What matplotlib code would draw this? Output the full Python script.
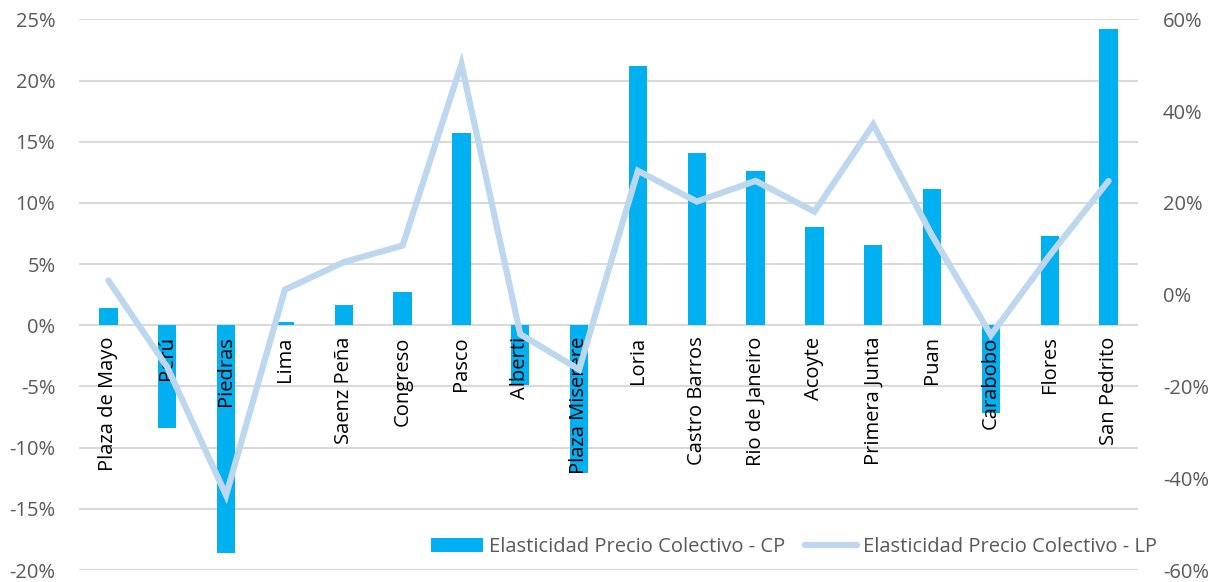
import matplotlib
matplotlib.use("Agg")
import matplotlib.pyplot as plt
from matplotlib.ticker import FuncFormatter

categories = ["Plaza de Mayo", "Perú", "Piedras", "Lima", "Saenz Peña", "Congreso",
              "Pasco", "Alberti", "Plaza Miserere", "Loria", "Castro Barros",
              "Rio de Janeiro", "Acoyte", "Primera Junta", "Puan", "Carabobo",
              "Flores", "San Pedrito"]
cp_values = [1.41, -8.4, -18.6, 0.27, 1.68, 2.72, 15.7, -4.9, -12.1, 21.2, 14.1,
             12.6, 8.0, 6.6, 11.1, -7.15, 7.3, 24.2]
lp_values = [3.1, -15.8, -43.7, 1.1, 7.1, 10.7, 50.3, -8.6, -16.3, 27.0, 20.3,
             24.8, 18.1, 37.1, 12.9, -8.8, 8.6, 24.8]
left_ticks = [-20, -15, -10, -5, 0, 5, 10, 15, 20, 25]
right_ticks = [-60, -40, -20, 0, 20, 40, 60]
cp_label = "Elasticidad Precio Colectivo - CP"
lp_label = "Elasticidad Precio Colectivo - LP"

plt.rcParams['font.family'] = ['Open Sans', 'DejaVu Sans']
FS = 14.5

fig = plt.figure(figsize=(12.17, 5.82), dpi=100)
ax = fig.add_axes([79/1217, 1-570/582, (1138-79)/1217, (570-19.4)/582])
ax2 = ax.twinx()

x = list(range(len(categories)))
bars = ax.bar(x, cp_values, width=0.31, color="#00B0F0", zorder=2, label=cp_label)
ax.set_ylim(-20, 25)
ax.set_xlim(-0.5, len(categories) - 0.5)
ax.set_yticks(left_ticks)
ax.yaxis.set_major_formatter(FuncFormatter(lambda v, p: f"{v:.0f}%"))
ax.grid(axis='y', color="#D9D9D9", linewidth=1.5, zorder=0)
ax.set_axisbelow(True)
ax.set_xticks([])
for s in ax.spines.values():
    s.set_visible(False)
ax.tick_params(axis='y', length=0, labelsize=FS, labelcolor="#595959", pad=17)

for i, name in enumerate(categories):
    ax.annotate(name, xy=(i, 0), xytext=(0, -8), textcoords='offset points',
                rotation=90, ha='center', va='top', fontsize=FS, color='black',
                zorder=3)

line, = ax2.plot(x, lp_values, color="#BDD7EE", linewidth=4.5,
                 solid_capstyle='round', solid_joinstyle='miter', label=lp_label)
ax2.set_ylim(-60, 60)
ax2.set_yticks(right_ticks)
ax2.yaxis.set_major_formatter(FuncFormatter(lambda v, p: f"{v:.0f}%"))
for s in ax2.spines.values():
    s.set_visible(False)
ax2.tick_params(axis='y', length=0, labelsize=FS, labelcolor="#595959", pad=18)

leg = fig.legend([bars, line], [cp_label, lp_label], loc='center',
                 bbox_to_anchor=(794/1217, 1-547/582), ncol=2, frameon=False,
                 fontsize=FS, handlelength=2.6, handletextpad=0.3,
                 columnspacing=0.95, labelcolor="#595959")

fig.savefig("out.png", dpi=100)
